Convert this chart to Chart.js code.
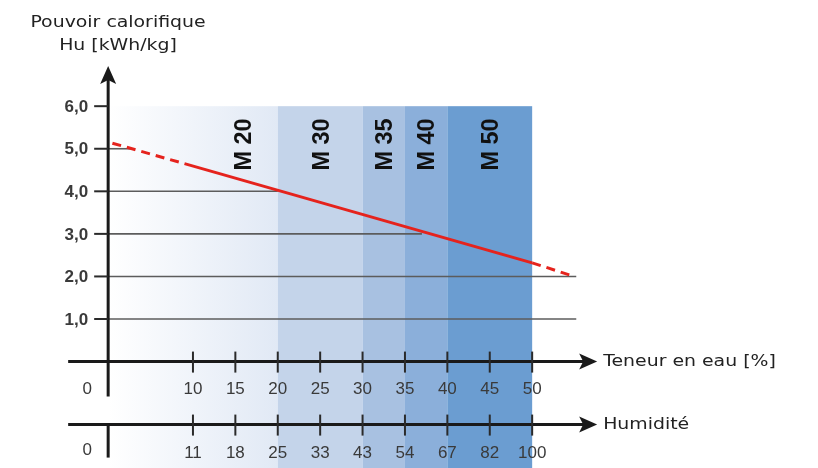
<!DOCTYPE html>
<html>
<head>
<meta charset="utf-8">
<script src="https://cdn.jsdelivr.net/npm/chart.js@4.4.1/dist/chart.umd.min.js"></script>
<style>
    html, body { margin: 0; padding: 0; background: #ffffff; }
    #wrap { width: 818px; height: 468px; }
</style>
</head>
<body>
<div id="wrap"><canvas id="mainChart" width="818" height="468"></canvas></div>
<script>
// Heating value vs. water content (wood chips)

/* -------------------- DATA -------------------- */

const moistureTicks = [10, 15, 20, 25, 30, 35, 40, 45, 50];
const humidityLabels = ['11', '18', '25', '33', '43', '54', '67', '82', '100'];

const yTicks = [1, 2, 3, 4, 5, 6];
const yTickLabels = ['1,0', '2,0', '3,0', '4,0', '5,0', '6,0'];

// red line: water content [%] -> heating value [kWh/kg]
const lineX = [0.5, 9, 50, 54.5];
const lineY = [5.13, 4.65, 2.32, 2.03];

// moisture classes
const classLabels = ['M 20', 'M 30', 'M 35', 'M 40', 'M 50'];
const classEdges = [0, 20, 30, 35, 40, 50];

// horizontal reference lines and how far right they are visible
const gridLevels = [1, 2, 3, 4, 5];
const gridEnds = [55.2, 55.2, 37, 20, 2.8];

/* -------------------- STYLE -------------------- */

const bandColors = [null, '#c4d4ea', '#a8c1e1', '#8bafda', '#6b9dd1'];
const classLabelX = [16, 25.2, 32.6, 37.5, 45.1];
const ink = '#1a1a1a';
const labelInk = '#3a3a3a';
const tickFont = '17px "Liberation Sans", Arial, sans-serif';
const titleFont = '16px "DejaVu Sans", Verdana, sans-serif';
const titleStretch = 1.18;

/* -------------------- HELPERS -------------------- */

function arrowHead(ctx, x, y, dir) {
    ctx.beginPath();
    if (dir === 'right') {
        ctx.moveTo(x, y);
        ctx.lineTo(x - 18, y - 8);
        ctx.lineTo(x - 14, y);
        ctx.lineTo(x - 18, y + 8);
    } else {
        ctx.moveTo(x, y);
        ctx.lineTo(x - 8, y + 18);
        ctx.lineTo(x, y + 14);
        ctx.lineTo(x + 8, y + 18);
    }
    ctx.closePath();
    ctx.fill();
}

function line(ctx, x1, y1, x2, y2) {
    ctx.beginPath();
    ctx.moveTo(x1, y1);
    ctx.lineTo(x2, y2);
    ctx.stroke();
}

// text drawn a little wider than the font, like the original artwork
function wideText(ctx, txt, x, y) {
    ctx.save();
    ctx.translate(x, y);
    ctx.scale(titleStretch, 1);
    ctx.fillText(txt, 0, 0);
    ctx.restore();
}

/* -------------------- PLUGIN -------------------- */

const diagramPlugin = {
    id: 'diagram',
    beforeDatasetsDraw(chart) {
        const ctx = chart.ctx;
        const px = v => chart.scales.x.getPixelForValue(v);
        const py = v => chart.scales.y.getPixelForValue(v);
        const top = py(6);
        const bottom = chart.height;

        ctx.save();
        // class bands
        const grad = ctx.createLinearGradient(px(classEdges[0]), 0, px(classEdges[1]), 0);
        grad.addColorStop(0, '#ffffff');
        grad.addColorStop(1, '#e1e9f5');
        for (let i = 0; i < classEdges.length - 1; i++) {
            ctx.fillStyle = bandColors[i] || grad;
            ctx.fillRect(px(classEdges[i]), top, px(classEdges[i + 1]) - px(classEdges[i]), bottom - top);
        }

        // reference lines
        ctx.strokeStyle = '#5c5c5c';
        ctx.lineWidth = 1.6;
        gridLevels.forEach((lv, i) => line(ctx, px(0), py(lv), px(gridEnds[i]), py(lv)));

        // class labels (rotated)
        ctx.fillStyle = '#111111';
        ctx.font = 'bold 23.5px "Liberation Sans", Arial, sans-serif';
        ctx.textAlign = 'center';
        ctx.textBaseline = 'middle';
        classLabels.forEach((txt, i) => {
            ctx.save();
            ctx.translate(px(classLabelX[i]), py(5.1));
            ctx.rotate(-Math.PI / 2);
            ctx.fillText(txt, 0, 1);
            ctx.restore();
        });
        ctx.restore();
    },
    afterDatasetsDraw(chart) {
        const ctx = chart.ctx;
        const px = v => chart.scales.x.getPixelForValue(v);
        const py = v => chart.scales.y.getPixelForValue(v);
        const x0 = px(0);
        const y0 = py(0);
        const y2 = y0 + 63;      // second (humidity) axis
        const left = x0 - 40;
        const right = x0 + 489;

        ctx.save();
        ctx.strokeStyle = ink;
        ctx.fillStyle = ink;

        // axes
        ctx.lineWidth = 3;
        line(ctx, x0, y0 + 35, x0, 80);
        arrowHead(ctx, x0, 66, 'up');
        line(ctx, left, y0, right - 10, y0);
        arrowHead(ctx, right, y0, 'right');
        line(ctx, left, y2, right - 10, y2);
        arrowHead(ctx, right, y2, 'right');
        line(ctx, x0, y2, x0, y2 + 33);

        // ticks
        ctx.lineWidth = 2;
        ctx.strokeStyle = '#2a2a2a';
        moistureTicks.forEach(t => {
            line(ctx, px(t), y0 - 10, px(t), y0 + 11);
            line(ctx, px(t), y2 - 10, px(t), y2 + 11);
        });
        yTicks.forEach(t => line(ctx, x0 - 14, py(t), x0, py(t)));

        // tick labels
        ctx.fillStyle = labelInk;
        ctx.font = 'bold ' + tickFont;
        ctx.textAlign = 'right';
        ctx.textBaseline = 'middle';
        yTicks.forEach((t, i) => ctx.fillText(yTickLabels[i], x0 - 20, py(t) + 1));

        ctx.font = tickFont;
        ctx.textAlign = 'center';
        ctx.fillText('0', x0 - 21, y0 + 28);
        ctx.fillText('0', x0 - 21, y2 + 26);
        moistureTicks.forEach((t, i) => {
            ctx.fillText(String(t), px(t), y0 + 28);
            ctx.fillText(humidityLabels[i], px(t), y2 + 29);
        });

        // titles
        ctx.fillStyle = '#222222';
        ctx.font = titleFont;
        ctx.textAlign = 'center';
        wideText(ctx, 'Pouvoir calorifique', 118, 23);
        wideText(ctx, 'Hu [kWh/kg]', 118, 46);
        ctx.textAlign = 'left';
        wideText(ctx, 'Teneur en eau [%]', right + 6, y0);
        wideText(ctx, 'Humidité', right + 6, y2);
        ctx.restore();
    }
};

/* -------------------- CHART -------------------- */

const points = lineX.map((x, i) => ({ x: x, y: lineY[i] }));
const lastSeg = points.length - 2;

new Chart(document.getElementById('mainChart'), {
    type: 'scatter',
    data: {
        datasets: [{
            data: points,
            showLine: true,
            borderColor: '#e5231d',
            borderWidth: 3,
            pointRadius: 0,
            segment: {
                borderDash: c => (c.p0DataIndex === 0 || c.p0DataIndex === lastSeg) ? [9, 6] : undefined
            }
        }]
    },
    options: {
        responsive: false,
        animation: false,
        layout: { padding: { left: 70, right: 218, top: 70, bottom: 0 } },
        plugins: {
            legend: { display: false },
            tooltip: { enabled: false }
        },
        scales: {
            x: { type: 'linear', min: -4.5, max: 58, display: false },
            y: { type: 'linear', min: -2.5, max: 6.85, display: false }
        }
    },
    plugins: [diagramPlugin]
});
</script>
</body>
</html>
